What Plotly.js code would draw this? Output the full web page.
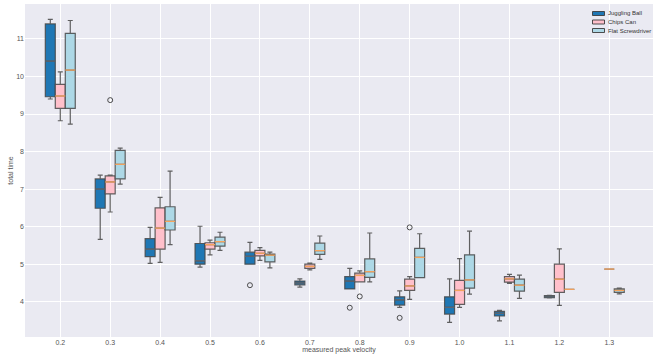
<!DOCTYPE html>
<html>
<head>
<meta charset="utf-8">
<script src="https://cdn.plot.ly/plotly-3.0.1.min.js"></script>
<style>html,body{margin:0;padding:0;background:#fff;}#chart{width:654px;height:355px;}</style>
</head>
<body>
<div id="chart"></div>
<script>
// Measured peak velocity categories
const velocities = [0.2, 0.3, 0.4, 0.5, 0.6, 0.7, 0.8, 0.9, 1.0, 1.1, 1.2, 1.3];
const tickLabels = ['0.2','0.3','0.4','0.5','0.6','0.7','0.8','0.9','1.0','1.1','1.2','1.3'];

// Juggling Ball (no data at 1.3)
const jugglingX   = [0.2, 0.3, 0.4, 0.5, 0.6, 0.7, 0.8, 0.9, 1.0, 1.1, 1.2];
const jugglingQ1  = [9.46, 6.49, 5.20, 5.00, 5.00, 4.45, 4.34, 3.91, 3.67, 3.62, 4.11];
const jugglingMed = [10.41, 7.00, 5.40, 5.09, 5.21, 4.50, 4.55, 4.05, 3.85, 3.69, 4.13];
const jugglingQ3  = [11.40, 7.27, 5.68, 5.55, 5.32, 4.55, 4.67, 4.13, 4.13, 3.74, 4.16];
const jugglingLo  = [9.40, 5.66, 5.02, 4.92, 5.00, 4.39, 4.34, 3.85, 3.45, 3.49, 4.10];
const jugglingHi  = [11.52, 7.37, 5.98, 6.01, 5.58, 4.61, 4.89, 4.29, 4.61, 3.77, 4.17];
const jugglingOutX = [0.6, 0.8, 0.9];
const jugglingOutY = [4.44, 3.84, 3.57];

// Chips Can
const chipsX   = [0.2, 0.3, 0.4, 0.5, 0.6, 0.7, 0.8, 0.9, 1.0, 1.1, 1.2, 1.3];
const chipsQ1  = [9.15, 6.87, 5.40, 5.40, 5.22, 4.89, 4.53, 4.30, 3.93, 4.52, 4.25, 4.87];
const chipsMed = [9.48, 7.19, 5.96, 5.52, 5.29, 4.94, 4.70, 4.42, 4.30, 4.61, 4.60, 4.87];
const chipsQ3  = [9.79, 7.35, 6.50, 5.57, 5.37, 5.00, 4.76, 4.60, 4.57, 4.67, 5.00, 4.87];
const chipsLo  = [8.82, 6.39, 5.05, 5.25, 5.10, 4.85, 4.53, 4.06, 3.85, 4.49, 3.90, 4.87];
const chipsHi  = [10.12, 7.37, 6.78, 5.64, 5.44, 5.03, 4.82, 4.67, 5.15, 4.73, 5.41, 4.87];
const chipsOutX = [0.3, 0.8, 0.9];
const chipsOutY = [9.37, 4.14, 5.98];

// Flat Screwdriver
const screwX   = [0.2, 0.3, 0.4, 0.5, 0.6, 0.7, 0.8, 0.9, 1.0, 1.1, 1.2, 1.3];
const screwQ1  = [9.15, 7.27, 5.91, 5.48, 5.06, 5.26, 4.65, 4.64, 4.36, 4.28, 4.33, 4.25];
const screwMed = [10.17, 7.66, 6.14, 5.60, 5.24, 5.36, 4.80, 5.18, 4.58, 4.44, 4.33, 4.30];
const screwQ3  = [11.15, 8.03, 6.53, 5.72, 5.27, 5.56, 5.14, 5.42, 5.25, 4.60, 4.33, 4.34];
const screwLo  = [8.73, 7.13, 5.52, 5.37, 4.90, 5.13, 4.53, 4.64, 4.20, 4.09, 4.33, 4.21];
const screwHi  = [11.49, 8.09, 7.48, 5.85, 5.32, 5.75, 5.83, 5.81, 5.88, 4.71, 4.33, 4.36];
const screwOutX = [];
const screwOutY = [];

const series = [
  {name:'Juggling Ball', x:jugglingX, q1:jugglingQ1, med:jugglingMed, q3:jugglingQ3, lo:jugglingLo, hi:jugglingHi, ox:jugglingOutX, oy:jugglingOutY, fill:'#1f77b4', medColor:'#5d6670'},
  {name:'Chips Can', x:chipsX, q1:chipsQ1, med:chipsMed, q3:chipsQ3, lo:chipsLo, hi:chipsHi, ox:chipsOutX, oy:chipsOutY, fill:'#ffc0cb', medColor:'#f5a35c'},
  {name:'Flat Screwdriver', x:screwX, q1:screwQ1, med:screwMed, q3:screwQ3, lo:screwLo, hi:screwHi, ox:screwOutX, oy:screwOutY, fill:'#add8e6', medColor:'#f5a35c'}
];

const step = 0.1;          // category spacing
const boxFrac = 0.2;       // box width as fraction of spacing
const edge = 'rgba(70,70,70,0.85)';

// plot area in pixels (for the hand-made compact legend)
const W = 654, H = 355, M = {l:25, r:1, t:4, b:18};
const pw = W - M.l - M.r, ph = H - M.t - M.b;
const px = v => (v - M.l) / pw;
const py = v => (H - M.b - v) / ph;

const traces = [];
const shapes = [];
const annotations = [];
series.forEach((s, i) => {
  traces.push({
    type:'box', name:s.name, x:s.x,
    q1:s.q1, median:s.med, q3:s.q3, lowerfence:s.lo, upperfence:s.hi,
    fillcolor:s.fill, line:{color:edge, width:1.2}, whiskerwidth:0.5,
    boxpoints:false, hoverinfo:'skip', offsetgroup:String(i), showlegend:false
  });
  const off = (i - 1) * boxFrac * step;
  s.x.forEach((xv, j) => {
    shapes.push({type:'line', xref:'x', yref:'y', layer:'above',
      x0:xv + off - boxFrac*step/2, x1:xv + off + boxFrac*step/2,
      y0:s.med[j], y1:s.med[j], line:{color:s.medColor, width:1.3}});
  });
  // legend entry
  const cy = 13.5 + i * 8.5;
  shapes.push({type:'rect', xref:'paper', yref:'paper', layer:'above',
    x0:px(592.5), x1:px(604.5), y0:py(cy + 2), y1:py(cy - 2),
    fillcolor:s.fill, line:{color:'rgba(60,60,60,0.9)', width:1}});
  annotations.push({xref:'paper', yref:'paper', x:px(607.5), y:py(cy), xanchor:'left', yanchor:'middle',
    text:s.name, showarrow:false, borderpad:0, borderwidth:0,
    font:{family:'Liberation Sans, Arial, sans-serif', size:6, color:'#333333'}});
});
series.forEach((s, i) => {
  const off = (i - 1) * boxFrac * step;
  traces.push({
    type:'scatter', mode:'markers', showlegend:false, hoverinfo:'skip',
    x:s.ox.map(v => v + off), y:s.oy,
    marker:{symbol:'circle-open', size:5, color:'rgba(60,60,60,0.9)', line:{width:1}}
  });
});

const layout = {
  width:W, height:H,
  margin:M,
  paper_bgcolor:'#ffffff', plot_bgcolor:'#eaeaf2',
  font:{family:'Liberation Sans, Arial, sans-serif', size:7, color:'#555'},
  boxmode:'group', boxgap:1 - 3*boxFrac, boxgroupgap:0,
  showlegend:false,
  xaxis:{range:[0.1293, 1.3876], tickvals:velocities, ticktext:tickLabels, showgrid:true, gridcolor:'#ffffff', gridwidth:1, zeroline:false, showline:false, ticks:'', ticklen:0,
    title:{text:'measured peak velocity', font:{size:7, color:'#555'}, standoff:1}},
  yaxis:{range:[3.06, 11.93], dtick:1, tick0:0, showgrid:true, gridcolor:'#ffffff', gridwidth:1, zeroline:false, showline:false, ticks:'',
    title:{text:'total time', font:{size:7, color:'#555'}, standoff:1}},
  shapes:shapes,
  annotations:annotations
};

Plotly.newPlot('chart', traces, layout, {displayModeBar:false, staticPlot:true});
</script>
</body>
</html>
